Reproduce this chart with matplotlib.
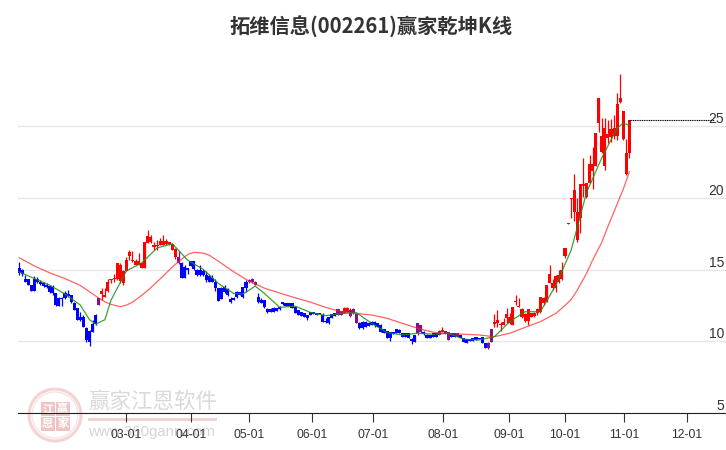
import matplotlib
matplotlib.use('Agg')
import matplotlib.pyplot as plt
from matplotlib.patches import Circle, Rectangle
from matplotlib.transforms import ScaledTranslation

plt.rcParams['font.family'] = ['Liberation Sans', 'Noto Sans CJK SC', 'DejaVu Sans']

title = '拓维信息(002261)赢家乾坤K线'
tick_days = [34.9, 56.1, 75, 95.5, 115.4, 138.2, 159.8, 178, 197.3, 217.8]
tick_labels = ['03-01', '04-01', '05-01', '06-01', '07-01', '08-01', '09-01', '10-01', '11-01', '12-01']
y_ticks = [5, 10, 15, 20, 25]

# one value per trading day
highs = [15.49, 15.07, 14.61, 14.37, 13.91, 14.54, 14.49, 14.26, 14.14, 14.03,
         13.91, 13.91, 13.33, 13.06, 13.10, 13.52, 13.56, 13.22, 12.75, 12.29,
         12.06, 11.83, 10.97, 10.79, 11.48, 11.90, 13.03, 13.68, 13.68, 14.37,
         14.37, 14.68, 15.42, 15.42, 14.95, 15.88, 16.34, 16.30, 15.76, 16.16,
         15.53, 16.92, 17.73, 17.38, 16.92, 17.08, 17.22, 17.38, 17.15, 16.92,
         16.81, 16.50, 16.27, 15.53, 15.30, 15.12, 15.60, 15.60, 15.07, 15.30,
         15.07, 14.91, 14.68, 14.61, 14.37, 13.73, 13.75, 13.91, 13.68, 13.10,
         13.08, 13.50, 13.45, 13.80, 14.26, 14.37, 14.44, 14.21, 13.33, 12.99,
         12.87, 12.29, 12.29, 12.36, 12.29, 12.45, 12.75, 12.64, 12.64, 12.68,
         12.36, 12.18, 12.06, 11.99, 11.83, 12.06, 12.06, 11.99, 11.99, 11.94,
         11.60, 11.71, 11.90, 11.99, 12.22, 12.11, 12.36, 12.41, 12.29, 12.29,
         11.90, 11.37, 11.44, 11.44, 11.37, 11.44, 11.44, 11.30, 11.20, 10.83,
         10.74, 10.67, 10.67, 10.83, 10.83, 10.56, 10.56, 10.60, 10.21, 10.44,
         11.30, 11.13, 10.74, 10.51, 10.44, 10.56, 10.56, 10.79, 10.97, 10.74,
         10.67, 10.56, 10.56, 10.56, 10.44, 10.21, 10.14, 10.14, 10.25, 10.32,
         10.25, 10.32, 9.91, 9.98, 10.83, 11.90, 12.18, 11.37, 11.60, 12.29,
         11.94, 12.36, 13.22, 12.99, 12.29, 11.94, 12.22, 11.99, 12.06, 12.29,
         13.10, 13.06, 13.91, 15.30, 14.37, 14.61, 14.95, 15.53, 16.53, 18.22,
         20.00, 21.67, 20.00, 20.93, 22.78, 21.04, 23.01, 23.54, 24.51, 26.95,
         25.56, 25.56, 25.39, 25.49, 25.79, 27.29, 28.63, 26.02, 24.10, 25.44]
lows = [14.61, 14.54, 14.14, 13.91, 13.52, 13.52, 14.03, 13.91, 13.75, 13.68,
        13.33, 13.22, 12.45, 12.45, 12.45, 12.92, 13.10, 12.68, 12.18, 11.48,
        11.43, 10.97, 9.98, 9.70, 10.67, 11.13, 12.52, 12.87, 13.10, 13.45,
        14.03, 14.14, 14.26, 14.03, 13.91, 14.91, 15.65, 15.53, 15.30, 15.30,
        15.12, 15.12, 16.85, 16.85, 16.34, 16.34, 16.69, 16.74, 16.69, 16.69,
        16.34, 15.76, 15.37, 14.42, 14.42, 14.72, 15.23, 14.95, 14.54, 14.54,
        14.54, 14.14, 14.12, 14.14, 13.52, 12.82, 12.92, 13.33, 13.15, 12.64,
        12.87, 12.99, 13.22, 12.99, 13.45, 14.03, 14.03, 13.91, 12.64, 12.64,
        12.29, 11.99, 12.06, 12.06, 12.11, 12.18, 12.52, 12.45, 12.45, 12.29,
        11.99, 11.83, 11.76, 11.71, 11.48, 11.83, 11.90, 11.83, 11.90, 11.37,
        11.30, 11.20, 11.60, 11.76, 11.83, 11.83, 11.99, 12.06, 11.71, 11.90,
        11.25, 10.83, 10.83, 10.97, 11.06, 11.13, 11.02, 11.02, 10.67, 10.60,
        10.21, 10.05, 10.51, 10.60, 10.60, 10.32, 10.28, 10.21, 9.81, 9.98,
        10.44, 10.56, 10.44, 10.21, 10.21, 10.32, 10.28, 10.44, 10.67, 10.51,
        10.09, 10.32, 10.32, 10.28, 10.21, 9.98, 9.91, 10.05, 10.05, 10.09,
        10.14, 9.91, 9.51, 9.44, 9.98, 10.97, 11.02, 10.74, 11.13, 11.25,
        11.20, 11.13, 12.52, 12.41, 11.60, 11.37, 11.13, 11.67, 11.71, 11.83,
        11.99, 12.52, 12.75, 14.03, 13.56, 13.45, 14.03, 14.26, 15.83, 18.18,
        18.61, 18.38, 16.95, 17.57, 20.07, 20.00, 21.00, 20.58, 22.20, 24.56,
        23.13, 21.97, 23.82, 23.87, 24.10, 24.05, 26.64, 24.05, 21.62, 22.78]
opens = [15.14, 15.00, 14.37, 14.33, 13.91, 14.33, 14.31, 14.14, 14.07, 13.91,
         13.84, 13.80, 13.33, 12.99, 13.01, 13.33, 13.29, 13.22, 12.64, 12.29,
         11.67, 11.67, 10.90, 10.74, 11.20, 11.83, 12.52, 13.29, 13.10, 13.50,
         14.26, 14.35, 14.31, 14.21, 14.03, 14.91, 15.93, 15.60, 15.35, 15.35,
         15.14, 15.12, 16.85, 16.90, 16.57, 16.62, 16.69, 16.74, 16.76, 16.81,
         16.39, 15.88, 15.42, 15.42, 15.19, 15.09, 15.56, 15.56, 15.00, 15.00,
         14.91, 14.61, 14.54, 14.44, 14.14, 13.68, 13.68, 13.75, 13.61, 12.92,
         12.99, 13.45, 13.45, 13.80, 14.14, 14.10, 14.10, 13.91, 13.10, 12.87,
         12.87, 12.22, 12.22, 12.29, 12.29, 12.41, 12.71, 12.64, 12.64, 12.68,
         12.36, 12.18, 12.06, 11.99, 11.83, 12.06, 12.06, 11.99, 11.99, 11.83,
         11.43, 11.67, 11.90, 11.94, 11.83, 11.83, 11.99, 12.06, 11.76, 11.94,
         11.25, 11.30, 11.37, 11.37, 11.30, 11.37, 11.37, 11.25, 11.13, 10.83,
         10.74, 10.67, 10.67, 10.83, 10.79, 10.56, 10.56, 10.60, 10.14, 10.44,
         10.56, 10.67, 10.67, 10.44, 10.44, 10.56, 10.56, 10.44, 10.67, 10.51,
         10.09, 10.56, 10.56, 10.28, 10.44, 10.21, 10.14, 10.14, 10.25, 10.32,
         10.25, 10.32, 9.91, 9.51, 9.98, 11.20, 11.25, 11.13, 11.13, 11.60,
         11.25, 11.13, 12.73, 12.41, 11.71, 11.43, 11.43, 11.71, 11.76, 11.94,
         12.06, 12.64, 12.75, 14.07, 13.68, 13.68, 14.14, 14.31, 15.95, 18.18,
         19.93, 19.03, 17.04, 18.61, 20.81, 20.07, 21.04, 21.85, 22.20, 25.21,
         23.17, 22.25, 24.17, 24.24, 24.33, 24.28, 26.71, 24.10, 21.67, 23.13]
closes = [14.77, 14.68, 14.14, 13.91, 13.52, 13.52, 14.14, 13.98, 13.84, 13.80,
          13.45, 13.33, 12.52, 12.45, 12.92, 12.99, 13.17, 12.75, 12.18, 11.48,
          11.48, 11.02, 10.09, 9.98, 10.67, 11.20, 12.99, 13.50, 13.22, 14.10,
          14.37, 14.44, 15.42, 15.30, 14.88, 15.65, 16.23, 15.69, 15.58, 15.58,
          15.42, 16.92, 17.32, 17.27, 16.74, 16.74, 16.97, 16.97, 16.97, 16.92,
          16.81, 16.46, 15.88, 14.42, 14.42, 15.00, 15.23, 15.07, 14.63, 14.61,
          14.61, 14.26, 14.12, 14.14, 13.68, 12.82, 12.92, 13.45, 13.22, 12.75,
          12.87, 13.06, 13.22, 13.06, 13.68, 14.26, 14.37, 14.12, 12.75, 12.69,
          12.36, 12.01, 12.06, 12.06, 12.11, 12.22, 12.59, 12.45, 12.45, 12.29,
          11.99, 11.83, 11.76, 11.71, 11.60, 11.83, 11.90, 11.83, 11.90, 11.37,
          11.37, 11.25, 11.60, 11.76, 12.22, 12.11, 12.29, 12.34, 12.18, 12.22,
          11.90, 10.90, 10.90, 10.97, 11.06, 11.13, 11.13, 11.02, 10.67, 10.60,
          10.21, 10.21, 10.51, 10.60, 10.60, 10.32, 10.28, 10.21, 10.05, 9.98,
          11.25, 11.13, 10.51, 10.21, 10.21, 10.32, 10.28, 10.74, 10.79, 10.74,
          10.67, 10.32, 10.32, 10.56, 10.21, 9.98, 9.91, 10.05, 10.05, 10.09,
          10.14, 9.91, 9.51, 9.86, 10.83, 11.37, 11.48, 11.20, 11.37, 11.87,
          11.67, 12.36, 12.80, 12.45, 12.22, 11.87, 12.22, 11.94, 11.99, 12.22,
          13.06, 12.99, 13.91, 14.68, 14.07, 14.54, 14.61, 15.00, 16.53, 18.22,
          20.00, 20.51, 19.03, 20.93, 20.93, 21.04, 22.32, 22.32, 24.51, 26.95,
          24.28, 24.86, 24.47, 24.79, 24.86, 26.55, 26.95, 26.02, 23.13, 25.44]
purple_days = [26, 52, 75, 76, 77, 104, 105, 108, 109, 110, 130, 131, 137, 139, 140, 143, 153, 154]

ma_red_days = [0, 5, 10, 15, 20, 25, 28, 30, 33, 35, 37, 40, 42, 45, 47, 50, 52, 55, 57, 60, 62,
               65, 70, 75, 80, 85, 90, 95, 100, 105, 110, 115, 120, 125, 130, 135, 140, 145, 150,
               155, 160, 165, 170, 175, 177, 180, 182, 185, 187, 190, 192, 195, 197, 199]
ma_red = [15.83, 15.25, 14.77, 14.37, 13.89, 13.15, 12.75, 12.57, 12.41, 12.52, 12.72, 13.20, 13.55, 14.14, 14.55,
          15.18, 15.55, 16.05, 16.20, 16.15, 16.00, 15.58, 14.84, 14.19, 13.70, 13.36, 13.03, 12.73,
          12.36, 12.06, 11.94, 11.83, 11.60, 11.25, 10.90, 10.63, 10.53, 10.49, 10.44,
          10.32, 10.56, 10.97, 11.37, 11.94, 12.30, 12.90, 13.56, 14.72, 15.65, 16.90, 18.00, 19.56, 20.60, 21.80]
ma_green_days = [0, 5, 10, 15, 20, 23, 25, 28, 30, 35, 40, 45, 50, 55, 60, 65, 70, 73, 75, 77, 80,
                 85, 90, 95, 100, 105, 110, 115, 120, 125, 130, 135, 140, 145, 150, 155,
                 160, 165, 170, 175, 180, 183, 185, 190, 195, 197, 199]
ma_green = [14.84, 14.37, 13.91, 13.29, 12.52, 11.50, 11.20, 11.50, 12.87, 14.90, 15.46, 16.50, 16.80, 15.65, 15.02,
            14.03, 13.33, 13.30, 13.56, 13.85, 13.33, 12.36, 12.45, 12.01, 11.78, 11.94, 11.99,
            11.25, 10.60, 10.44, 10.56, 10.49, 10.56, 10.14, 10.09, 10.32, 11.37, 12.06, 12.06,
            13.90, 16.34, 18.73, 20.35, 22.78, 24.86, 25.20, 25.05]
last_close = closes[-1]

RED = '#ff0000'
BLUE = '#0000ff'
PURPLE = '#8a0f8a'

fig = plt.figure(figsize=(7.26, 4.5), dpi=100)

# watermark sits behind the chart, in pixel coordinates
bg = fig.add_axes([0, 0, 1, 1], zorder=0)
bg.set_xlim(0, 726)
bg.set_ylim(450, 0)
bg.axis('off')
bg.add_patch(Circle((55, 415), 26, fill=False, ec='#f3d3d3', lw=2.2))
bg.add_patch(Circle((55, 415), 23, fill=False, ec='#f8e4e4', lw=1))
seal = ['江', '赢', '恩', '家']
for k in range(4):
    sx = 41 + 15 * (k % 2)
    sy = 402 + 15 * (k // 2)
    bg.add_patch(Rectangle((sx, sy), 13.5, 13.5, fc='#f0c4c4', ec='none'))
    bg.text(sx + 6.7, sy + 6.5, seal[k], color='white', fontsize=8, ha='center', va='center',
            family=['Noto Sans CJK SC'], weight='bold')
bg.text(88, 402, '赢家江恩软件', color='#d9d9d9', fontsize=15.5, ha='left', va='center', family=['Noto Sans CJK SC'])
bg.add_patch(Rectangle((88, 418), 129, 2.5, fc='#f0d4d4', ec='none'))
bg.text(88, 432, 'www.360gann.com', color='#d4d4d4', fontsize=10.8, ha='left', va='center')

# main axes: candle index on x, price on y
ax = fig.add_axes([18 / 726, (450 - 413) / 450, 708 / 726, 363 / 450], zorder=1)
ax.patch.set_alpha(0)
ax.set_xlim(-0.33, 230.5)
ax.set_ylim(5, 30.3)

days = list(range(len(closes)))
for i in days:
    if i in purple_days:
        c = PURPLE
    elif closes[i] >= opens[i]:
        c = RED
    else:
        c = BLUE
    ax.vlines(i, lows[i], highs[i], color=c, lw=0.9, zorder=3)
    ax.bar(i, abs(closes[i] - opens[i]), bottom=min(opens[i], closes[i]), width=1.0, color=c, lw=0, zorder=3)

ax.plot(ma_red_days, ma_red, color='#ff2020', lw=0.9, alpha=0.7, zorder=4)
ax.plot(ma_green_days, ma_green, color='#1a8f1a', lw=0.9, alpha=0.85, zorder=5)
ax.hlines(last_close, days[-1], 226.5, color='black', lw=0.8, linestyles=(0, (1, 0.6)), zorder=4)

ax.set_yticks(y_ticks)
ax.set_yticklabels([str(v) for v in y_ticks])
ax.yaxis.tick_right()
ax.tick_params(axis='y', length=0, pad=-1.5, labelsize=10, labelcolor='#333333')
up = ScaledTranslation(0, 7 / 100, fig.dpi_scale_trans)
for lab in ax.get_yticklabels():
    lab.set_ha('right')
    lab.set_va('center')
    lab.set_transform(lab.get_transform() + up)
ax.grid(axis='y', color='#e6e6e6', lw=1, zorder=0)
ax.set_axisbelow(True)

ax.set_xticks(tick_days)
ax.set_xticklabels(tick_labels)
ax.tick_params(axis='x', length=6.5, width=0.8, color='#333333', pad=5, labelsize=8.7, labelcolor='#333333')
for s in ['top', 'left', 'right']:
    ax.spines[s].set_visible(False)
ax.spines['bottom'].set_color('#222222')
ax.spines['bottom'].set_linewidth(0.8)

fig.text(371.5 / 726, 1 - 26.5 / 450, title, ha='center', va='center', fontsize=14.6, weight='bold',
         color='#333333', family=['Noto Sans CJK SC', 'DejaVu Sans'])

fig.savefig('out.png', dpi=100)
